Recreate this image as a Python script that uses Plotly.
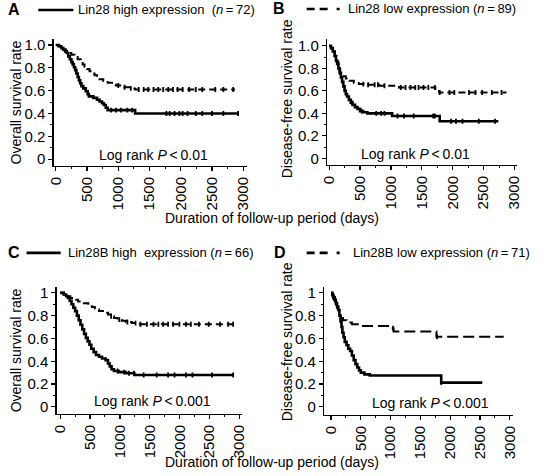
import plotly.graph_objects as go
import numpy as np

W, H = 543, 476

# ---------------- data (Kaplan-Meier step curves) ----------------
# Panel A: Lin28, overall survival
a_high_t = [0, 50, 90, 120, 150, 175, 200, 225, 250, 270, 290, 310, 330, 350, 370, 390, 410, 440, 480, 510, 530, 600, 660, 700, 740, 770, 800, 830, 1270, 2920]
a_high_s = [1.0, 0.986, 0.972, 0.958, 0.944, 0.93, 0.90, 0.875, 0.85, 0.83, 0.805, 0.78, 0.75, 0.72, 0.69, 0.665, 0.64, 0.62, 0.595, 0.57, 0.55, 0.537, 0.52, 0.505, 0.49, 0.475, 0.45, 0.43, 0.40, 0.40]
a_high_cens = [885, 964, 1042, 1146, 1224, 1771, 1823, 1901, 1979, 2031, 2109, 2240, 2344, 2500, 2682, 2917]
a_low_t = [0, 40, 80, 120, 160, 200, 250, 300, 350, 400, 430, 460, 500, 540, 580, 620, 660, 700, 760, 830, 900, 960, 1050, 1100, 1200, 1270, 2870]
a_low_s = [1.0, 0.99, 0.975, 0.96, 0.94, 0.93, 0.915, 0.895, 0.875, 0.85, 0.83, 0.81, 0.79, 0.77, 0.75, 0.735, 0.715, 0.70, 0.685, 0.67, 0.655, 0.645, 0.635, 0.63, 0.62, 0.61, 0.61]
a_low_cens = [1000, 1100, 1200, 1328, 1406, 1480, 1563, 1640, 1719, 1800, 1875, 1950, 2031, 2135, 2240, 2344, 2552, 2682, 2839]

# Panel B: Lin28, disease-free survival
b_high_t = [0, 30, 60, 90, 110, 130, 150, 170, 190, 210, 230, 250, 270, 290, 320, 350, 380, 420, 460, 500, 550, 620, 1020, 1790, 2740]
b_high_s = [1.0, 0.98, 0.95, 0.91, 0.87, 0.84, 0.80, 0.76, 0.72, 0.68, 0.64, 0.60, 0.57, 0.55, 0.52, 0.495, 0.475, 0.455, 0.44, 0.42, 0.41, 0.40, 0.377, 0.33, 0.33]
b_high_cens = [368, 526, 763, 842, 895, 1106, 1211, 1369, 1685, 1711, 1974, 2053, 2159, 2422, 2685]
b_low_t = [0, 30, 60, 90, 120, 150, 180, 220, 270, 330, 400, 480, 560, 810, 1130, 1720, 1780, 2870]
b_low_s = [1.0, 0.98, 0.95, 0.91, 0.86, 0.79, 0.75, 0.73, 0.71, 0.69, 0.67, 0.66, 0.655, 0.645, 0.63, 0.61, 0.585, 0.585]
b_low_cens = [553, 632, 737, 790, 895, 1159, 1237, 1316, 1395, 1448, 1527, 1606, 1711, 1790, 1948, 2027, 2264, 2369, 2475, 2633, 2791]

# Panel C: Lin28B, overall survival
c_high_t = [0, 60, 100, 130, 160, 190, 220, 250, 280, 310, 340, 370, 400, 430, 460, 490, 520, 560, 600, 650, 700, 760, 800, 830, 860, 900, 980, 1100, 1240, 2910]
c_high_s = [1.0, 0.985, 0.97, 0.955, 0.93, 0.90, 0.87, 0.84, 0.80, 0.76, 0.72, 0.68, 0.64, 0.605, 0.575, 0.545, 0.51, 0.48, 0.455, 0.44, 0.425, 0.41, 0.38, 0.355, 0.33, 0.315, 0.305, 0.295, 0.28, 0.28]
c_high_cens = [961, 1071, 1152, 1234, 1397, 1615, 1806, 1914, 2105, 2214, 2541, 2895]
c_low_t = [0, 60, 120, 170, 230, 300, 380, 470, 530, 580, 650, 740, 800, 850, 900, 960, 1030, 1100, 1200, 1280, 2900]
c_low_s = [1.0, 0.985, 0.97, 0.955, 0.94, 0.925, 0.91, 0.895, 0.875, 0.855, 0.84, 0.825, 0.81, 0.795, 0.78, 0.765, 0.755, 0.745, 0.735, 0.725, 0.725]
c_low_cens = [853, 989, 1125, 1261, 1343, 1452, 1561, 1643, 1724, 1806, 1888, 1996, 2105, 2187, 2323, 2486, 2676, 2812, 2895]

# Panel D: Lin28B, disease-free survival
d_high_t = [0, 20, 40, 60, 80, 100, 120, 140, 160, 175, 190, 210, 230, 260, 290, 320, 350, 380, 410, 440, 470, 500, 560, 650, 1850, 2540]
d_high_s = [1.0, 0.98, 0.96, 0.94, 0.91, 0.88, 0.85, 0.80, 0.75, 0.70, 0.65, 0.61, 0.57, 0.54, 0.51, 0.49, 0.45, 0.41, 0.375, 0.345, 0.32, 0.30, 0.285, 0.275, 0.213, 0.213]
d_high_cens = [40, 80, 1850]
d_low_t = [0, 20, 40, 60, 80, 100, 120, 140, 160, 200, 260, 350, 500, 1000, 1050, 1770, 2900]
d_low_s = [1.0, 0.98, 0.96, 0.94, 0.91, 0.88, 0.85, 0.82, 0.78, 0.76, 0.74, 0.725, 0.71, 0.69, 0.66, 0.615, 0.615]
d_low_cens = [30, 60, 100, 1040, 1780]

x_ticks = [0, 500, 1000, 1500, 2000, 2500, 3000]
x_ticktext = ["0", "500", "1000", "1500", "2000", "2500", "3000"]
y_ticks = [0, 0.2, 0.4, 0.6, 0.8, 1.0]
y_ticktext_ab = ["0", "0.2", "0.4", "0.6", "0.8", "1.0"]
y_ticktext_cd = ["0", "0.2", "0.4", "0.6", "0.8", "1"]

FONT = "Arial, Liberation Sans, Helvetica, sans-serif"


def step_at(t, s, c):
    idx = np.searchsorted(np.array(t), c, side="right") - 1
    return s[max(idx, 0)]


def xd(a, b):
    return [a / W, b / W]


def yd(top, bottom):
    return [1 - bottom / H, 1 - top / H]


fig = go.Figure()

panels = [
    (a_high_t, a_high_s, a_high_cens, a_low_t, a_low_s, a_low_cens, "", "7px,4px"),
    (b_high_t, b_high_s, b_high_cens, b_low_t, b_low_s, b_low_cens, "2", "7px,4px"),
    (c_high_t, c_high_s, c_high_cens, c_low_t, c_low_s, c_low_cens, "3", "7px,4px"),
    (d_high_t, d_high_s, d_high_cens, d_low_t, d_low_s, d_low_cens, "4", "11px,5px"),
]

for ht, hs, hc, lt, ls, lc, sfx, ldash in panels:
    xa, ya = "x" + sfx, "y" + sfx
    fig.add_trace(go.Scatter(x=lt, y=ls, mode="lines", line=dict(color="black", width=2, shape="hv", dash=ldash),
                             xaxis=xa, yaxis=ya, showlegend=False, hoverinfo="skip"))
    fig.add_trace(go.Scatter(x=lc, y=[step_at(lt, ls, c) for c in lc], mode="markers",
                             marker=dict(symbol="line-ns", size=3.5, line=dict(color="black", width=1.8)),
                             xaxis=xa, yaxis=ya, showlegend=False, hoverinfo="skip"))
    fig.add_trace(go.Scatter(x=ht, y=hs, mode="lines", line=dict(color="black", width=2.6, shape="hv"),
                             xaxis=xa, yaxis=ya, showlegend=False, hoverinfo="skip"))
    fig.add_trace(go.Scatter(x=hc, y=[step_at(ht, hs, c) for c in hc], mode="markers",
                             marker=dict(symbol="line-ns", size=3.5, line=dict(color="black", width=1.8)),
                             xaxis=xa, yaxis=ya, showlegend=False, hoverinfo="skip"))


def xaxis(dom, rng, anchor):
    return dict(domain=dom, range=rng, anchor=anchor, showline=True, linecolor="black", linewidth=1.4,
                ticks="outside", ticklen=4, tickwidth=1.2, tickcolor="black", showgrid=False, zeroline=False,
                tickvals=x_ticks, ticktext=x_ticktext, tickangle=-90,
                tickfont=dict(family=FONT, size=15, color="black"),
                minor=dict(ticks="outside", ticklen=2, tickwidth=1, tickcolor="black", dtick=250, tick0=0, showgrid=False))


def yaxis(dom, rng, anchor, ticktext):
    return dict(domain=dom, range=rng, anchor=anchor, showline=True, linecolor="black", linewidth=1.4,
                ticks="outside", ticklen=4, tickwidth=1.2, tickcolor="black", showgrid=False, zeroline=False,
                tickvals=y_ticks, ticktext=ticktext,
                tickfont=dict(family=FONT, size=15, color="black"),
                minor=dict(ticks="outside", ticklen=2, tickwidth=1, tickcolor="black", dtick=0.1, tick0=0, showgrid=False))


layout_axes = dict(
    xaxis=xaxis(xd(48, 246), [-31, 3062], "y"),
    yaxis=yaxis(yd(37, 165), [-0.056, 1.055], "x", y_ticktext_ab),
    xaxis2=xaxis(xd(328, 522), [-32, 3033], "y2"),
    yaxis2=yaxis(yd(37, 164), [-0.056, 1.064], "x2", y_ticktext_ab),
    xaxis3=xaxis(xd(51, 241), [-57, 3047], "y3"),
    yaxis3=yaxis(yd(287, 415), [-0.058, 1.055], "x3", y_ticktext_cd),
    xaxis4=xaxis(xd(325, 518), [-115, 3049], "y4"),
    yaxis4=yaxis(yd(287, 416), [-0.067, 1.055], "x4", y_ticktext_cd),
)


def ann(text, px, py, size=14, xanchor="center", angle=0, bold=False):
    return dict(text=("<b>%s</b>" % text) if bold else text, x=px / W, y=1 - py / H, xref="paper", yref="paper",
                xanchor=xanchor, yanchor="middle", showarrow=False, textangle=angle,
                font=dict(family=FONT, size=size, color="black"))


TS = "\u2009"
HS = 13
annotations = [
    ann("A", 7, 8, size=16, bold=True),
    ann("Lin28 high expression  (<i>n</i>" + TS + "=" + TS + "72)", 71, 8, size=HS, xanchor="left"),
    ann("B", 279, 7, size=16, bold=True),
    ann("Lin28 low expression (<i>n</i>" + TS + "=" + TS + "89)", 347, 7, size=HS, xanchor="left"),
    ann("C", 7, 253, size=16, bold=True),
    ann("Lin28B high  expression (<i>n</i>" + TS + "=" + TS + "66)", 60, 253, size=HS, xanchor="left"),
    ann("D", 280, 253, size=16, bold=True),
    ann("Lin28B low expression (<i>n</i>" + TS + "=" + TS + "71)", 352, 253, size=HS, xanchor="left"),
    ann("Overall survival rate", 9.5, 101, angle=-90),
    ann("Disease-free survival rate", 287, 98, angle=-90),
    ann("Overall survival rate", 9.5, 351, angle=-90),
    ann("Disease-free survival rate", 287, 343, angle=-90),
    ann("Duration of follow-up period (days)", 271, 218),
    ann("Duration of follow-up period (days)", 271, 464),
    ann("Log rank <i>P</i>" + TS + "&lt;" + TS + "0.01", 150, 154),
    ann("Log rank <i>P</i>" + TS + "&lt;" + TS + "0.01", 419, 153),
    ann("Log rank <i>P</i>" + TS + "&lt;" + TS + "0.001", 149, 402),
    ann("Log rank <i>P</i>" + TS + "&lt;" + TS + "0.001", 434, 404),
]


def seg(x0, x1, py, width, dash="solid"):
    return dict(type="line", xref="paper", yref="paper", x0=x0 / W, x1=x1 / W, y0=1 - py / H, y1=1 - py / H,
                line=dict(color="black", width=width, dash=dash))


legend_dash = "8px,5px,8px,9px,3px,200px"
shapes = [
    seg(32, 68, 8, 2.6),
    seg(307, 341, 7, 2.6, legend_dash),
    seg(20, 55, 253, 2.6),
    seg(307, 341, 253, 2.6, legend_dash),
]

fig.update_layout(width=W, height=H, margin=dict(l=0, r=0, t=0, b=0), paper_bgcolor="white",
                  plot_bgcolor="white", showlegend=False, annotations=annotations, shapes=shapes,
                  font=dict(family=FONT, size=14, color="black"), hovermode=False, **layout_axes)

fig.write_html("out.html", config={"displayModeBar": False, "staticPlot": True},
               post_script="document.body.style.margin='0';document.body.style.padding='0';")
